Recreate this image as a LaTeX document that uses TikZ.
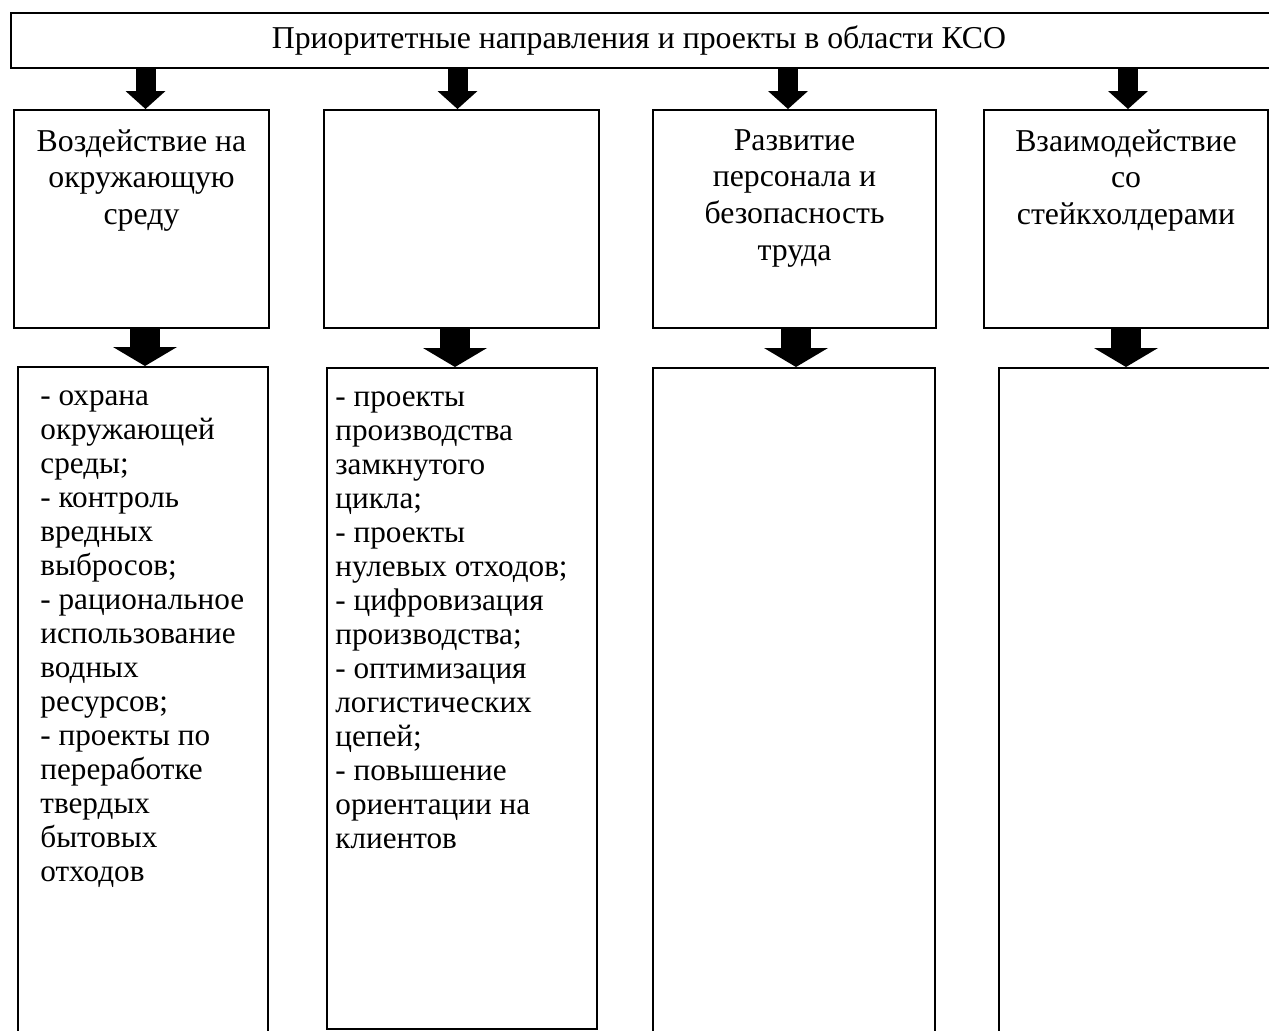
\documentclass[tikz,border=0pt]{standalone}
\usepackage{fontspec}
\setmainfont{Liberation Serif}
\usetikzlibrary{arrows.meta,calc}

\tikzset{
  framebox/.style={draw, line width=1pt, inner sep=0pt, anchor=north west},
  headtext/.style={font=\fontsize{15.9}{18.3}\selectfont, align=center, inner sep=0pt, anchor=north},
  listtext/.style={font=\fontsize{15.6}{17}\selectfont, align=left, inner sep=0pt, anchor=north west},
  thinarrow/.style={line width=10pt, -{Triangle[length=9pt, width=20pt, line width=0pt]}},
  fatarrow/.style={line width=15pt, -{Triangle[length=9.5pt, width=32pt, line width=0pt]}},
}

\begin{document}
\begin{tikzpicture}[x=0.5pt, y=-0.5pt]
\useasboundingbox (0,0) rectangle (1269,1030);
\clip (0,0) rectangle (1269,1030);

% top line
\node[framebox, minimum width=636pt, minimum height=27.5pt] (top) at (10,12) {};
\node[font=\fontsize{15.9}{18.3}\selectfont, inner sep=0pt] (title) at ($(top.center)+(-8,0)$)
  {Приоритетные направления и проекты в области КСО};

% directions
\node[framebox, minimum width=127.5pt, minimum height=109pt] (mid1) at (13,109) {};
\node[framebox, minimum width=137.5pt, minimum height=109pt] (mid2) at (323,109) {};
\node[framebox, minimum width=141.5pt, minimum height=109pt] (mid3) at (652,109) {};
\node[framebox, minimum width=142pt, minimum height=109pt] (mid4) at (983,109) {};

\node[headtext, yshift=-10pt] (head1) at (mid1.north) {Воздействие на\\окружающую\\среду};
\node[headtext, yshift=-10pt] (head3) at (mid3.north) {Развитие\\персонала и\\безопасность\\труда};
\node[headtext, yshift=-10pt] (head4) at (mid4.north) {Взаимодействие\\со\\стейкхолдерами};

% projects
\node[framebox, minimum width=125pt, minimum height=339.5pt] (low1) at (17,366) {};
\node[framebox, minimum width=135pt, minimum height=330.5pt] (low2) at (326,367) {};
\node[framebox, minimum width=141pt, minimum height=339pt] (low3) at (652,367) {};
\node[framebox, minimum width=146pt, minimum height=339pt] (low4) at (998,367) {};

\node[listtext] (list1) at ($(low1.north west)+(23,24)$) {- охрана\\окружающей\\среды;\\- контроль\\вредных\\выбросов;\\- рациональное\\использование\\водных\\ресурсов;\\- проекты по\\переработке\\твердых\\бытовых\\отходов};
\node[listtext] (list2) at ($(low2.north west)+(9,24)$) {- проекты\\производства\\замкнутого\\цикла;\\- проекты\\нулевых отходов;\\- цифровизация\\производства;\\- оптимизация\\логистических\\цепей;\\- повышение\\ориентации на\\клиентов};

% arrows
\draw[thinarrow] ([xshift=2pt]mid1.north |- top.south) -- ([xshift=2pt]mid1.north);
\draw[thinarrow] ([xshift=-2pt]mid2.north |- top.south) -- ([xshift=-2pt]mid2.north);
\draw[thinarrow] ([xshift=-3.25pt]mid3.north |- top.south) -- ([xshift=-3.25pt]mid3.north);
\draw[thinarrow] ([xshift=1pt]mid4.north |- top.south) -- ([xshift=1pt]mid4.north);

\draw[fatarrow] ([xshift=1.75pt]mid1.south) -- ([xshift=1.75pt]mid1.south |- low1.north);
\draw[fatarrow] ([xshift=-3.25pt]mid2.south) -- ([xshift=-3.25pt]mid2.south |- low2.north);
\draw[fatarrow] ([xshift=0.75pt]mid3.south) -- ([xshift=0.75pt]mid3.south |- low3.north);
\draw[fatarrow] (mid4.south) -- (mid4.south |- low4.north);
\end{tikzpicture}
\end{document}
